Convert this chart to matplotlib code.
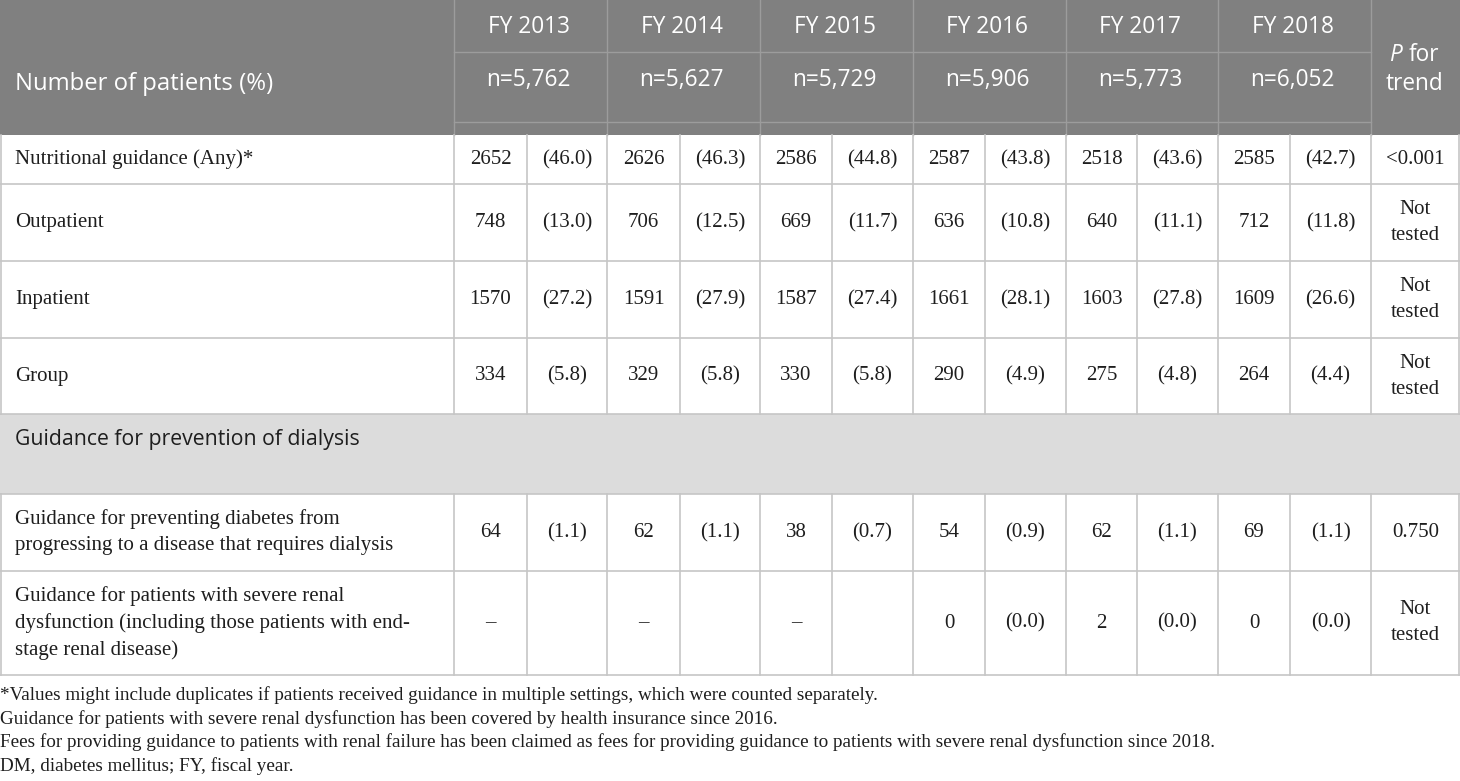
import matplotlib
matplotlib.use("Agg")
import matplotlib.pyplot as plt
from matplotlib.patches import Rectangle

# Table data
years = ["FY 2013", "FY 2014", "FY 2015", "FY 2016", "FY 2017", "FY 2018"]
n_totals = ["n=5,762", "n=5,627", "n=5,729", "n=5,906", "n=5,773", "n=6,052"]

row_labels = [
    "Nutritional guidance (Any)*",
    "Outpatient",
    "Inpatient",
    "Group",
    "Guidance for preventing diabetes from\nprogressing to a disease that requires dialysis",
    "Guidance for patients with severe renal\ndysfunction (including those patients with end-\nstage renal disease)",
]
section_label = "Guidance for prevention of dialysis"

nutritional_n = [2652, 2626, 2586, 2587, 2518, 2585]
nutritional_pct = [46.0, 46.3, 44.8, 43.8, 43.6, 42.7]
outpatient_n = [748, 706, 669, 636, 640, 712]
outpatient_pct = [13.0, 12.5, 11.7, 10.8, 11.1, 11.8]
inpatient_n = [1570, 1591, 1587, 1661, 1603, 1609]
inpatient_pct = [27.2, 27.9, 27.4, 28.1, 27.8, 26.6]
group_n = [334, 329, 330, 290, 275, 264]
group_pct = [5.8, 5.8, 5.8, 4.9, 4.8, 4.4]
prevent_n = [64, 62, 38, 54, 62, 69]
prevent_pct = [1.1, 1.1, 0.7, 0.9, 1.1, 1.1]
severe_n = [None, None, None, 0, 2, 0]
severe_pct = [None, None, None, 0.0, 0.0, 0.0]

p_trend = ["<0.001", "Not\ntested", "Not\ntested", "Not\ntested", "0.750", "Not\ntested"]

footnotes = [
    "*Values might include duplicates if patients received guidance in multiple settings, which were counted separately.",
    "Guidance for patients with severe renal dysfunction has been covered by health insurance since 2016.",
    "Fees for providing guidance to patients with renal failure has been claimed as fees for providing guidance to patients with severe renal dysfunction since 2018.",
    "DM, diabetes mellitus; FY, fiscal year.",
]

counts = [nutritional_n, outpatient_n, inpatient_n, group_n, prevent_n, severe_n]
pcts = [nutritional_pct, outpatient_pct, inpatient_pct, group_pct, prevent_pct, severe_pct]

# layout (pixel coords)
W, H = 1460, 781
col_edges = [454, 607, 760, 913, 1066, 1218, 1371]
sub_splits = [527, 680, 832, 985, 1137, 1290]
header_bot = 135
row_edges = [135, 184, 261, 338, 414]
section = (414, 494)
row_edges2 = [494, 571, 675]

HEAD = "#808080"
BAND = "#dcdcdc"
GRID = "#c6c6c6"
HGRID = "#9c9c9c"
TXT = "#1e1e1e"
SERIF = "Liberation Serif"
SANS = "Open Sans"
fs_body = 15
fs_head = 16.3
fs_note = 13.8

fig = plt.figure(figsize=(W / 100, H / 100), dpi=100)
ax = fig.add_axes([0, 0, 1, 1])
ax.set_xlim(0, W)
ax.set_ylim(H, 0)
ax.axis("off")

# header background and section band
ax.add_patch(Rectangle((0, 0), W, header_bot, color=HEAD, lw=0))
ax.add_patch(Rectangle((0, section[0]), W, section[1] - section[0], color=BAND, lw=0))

# header inner lines
for x in col_edges:
    ax.plot([x, x], [0, header_bot], color=HGRID, lw=1)
for y in [52, 122]:
    ax.plot([col_edges[0], col_edges[-1]], [y, y], color=HGRID, lw=1)

# body grid
for y in row_edges[1:] + row_edges2:
    ax.plot([0, W], [y, y], color=GRID, lw=1.2)
for y0, y1 in [(row_edges[0], row_edges[-1]), (row_edges2[0], row_edges2[-1])]:
    for x in [1] + col_edges + sub_splits:
        ax.plot([x, x], [y0, y1], color=GRID, lw=1.2)
    ax.plot([W - 1, W - 1], [y0, y1], color=GRID, lw=1.2)

# header text
ax.text(15, 84, "Number of patients (%)", color="white", fontsize=17.2,
        family=SANS, va="center", ha="left")
for i, (yr, n) in enumerate(zip(years, n_totals)):
    xc = (col_edges[i] + col_edges[i + 1]) / 2
    ax.text(xc - 2, 27, yr, color="white", fontsize=fs_head, family=SANS,
            ha="center", va="center")
    ax.text(xc - 2, 80, n, color="white", fontsize=fs_head, family=SANS,
            ha="center", va="center")
ax.text(1402, 55, "P", color="white", fontsize=fs_head, family=SANS,
        style="italic", ha="right", va="center")
ax.text(1409, 55, "for", color="white", fontsize=fs_head, family=SANS,
        ha="left", va="center")
ax.text(1415, 84, "trend", color="white", fontsize=fs_head, family=SANS,
        ha="center", va="center")

# section label
ax.text(15, 440, section_label, color=TXT, fontsize=15.3, family=SANS,
        ha="left", va="center")

# body rows
bands = list(zip(row_edges[:-1], row_edges[1:])) + list(zip(row_edges2[:-1], row_edges2[1:]))
pc = (col_edges[-1] + W) / 2
for r, (y0, y1) in enumerate(bands):
    yc = (y0 + y1) / 2
    ax.text(15, yc, row_labels[r], fontsize=fs_body, family=SERIF, color=TXT,
            ha="left", va="center", linespacing=1.5)
    for i in range(6):
        xa = (col_edges[i] + sub_splits[i]) / 2
        xb = (sub_splits[i] + col_edges[i + 1]) / 2
        c = counts[r][i]
        p = pcts[r][i]
        ax.text(xa, yc, "–" if c is None else str(c), fontsize=fs_body, family=SERIF,
                color=TXT, ha="center", va="center")
        if p is not None:
            ax.text(xb, yc, f"({p:.1f})", fontsize=fs_body, family=SERIF,
                    color=TXT, ha="center", va="center")
    ax.text(pc, yc, p_trend[r], fontsize=fs_body, family=SERIF, color=TXT,
            ha="center", va="center", linespacing=1.5)

# footnotes
for k, line in enumerate(footnotes):
    ax.text(0, 695 + k * 23.7, line, fontsize=fs_note, family=SERIF, color=TXT,
            ha="left", va="center")

fig.savefig("out.png", dpi=100)
